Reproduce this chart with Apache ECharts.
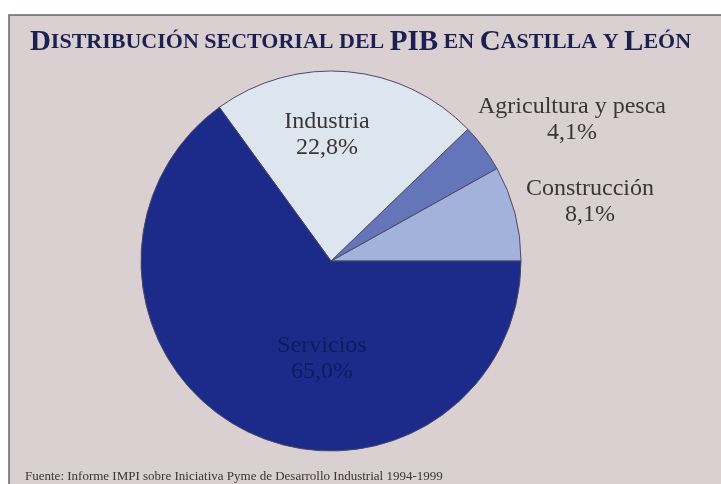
<!DOCTYPE html>
<html>
<head>
<meta charset="utf-8">
<script src="https://cdn.jsdelivr.net/npm/echarts@6/dist/echarts.min.js"></script>
<style>html,body{margin:0;padding:0;background:#fff;}#c{width:721px;height:484px;}</style>
</head>
<body>
<div id="c"></div>
<script>
const categories = ['Construcción', 'Agricultura y pesca', 'Industria', 'Servicios'];
const values = [8.1, 4.1, 22.8, 65.0];
const valueLabels = ['8,1%', '4,1%', '22,8%', '65,0%'];
const colors = ['#a3b2da', '#6575b9', '#dde5ee', '#1c2a8a'];
const labelPos = [[590, 202], [572, 120], [327, 135], [322, 359]];

const chart = echarts.init(document.getElementById('c'));
chart.setOption({
  backgroundColor: '#ffffff',
  animation: false,
  graphic: [{
    type: 'rect', z: -10,
    shape: { x: 9, y: 15, width: 720, height: 480 },
    style: { fill: '#dacfd1', stroke: '#6a6266', lineWidth: 1.5 }
  }],
  title: [{
    left: 'center', top: 23,
    text: '{b|D}{s|ISTRIBUCIÓN SECTORIAL DEL }{b|PIB}{s| EN }{b|C}{s|ASTILLA Y }{b|L}{s|EÓN}',
    textStyle: {
      rich: {
        b: { fontFamily: 'Liberation Serif', fontWeight: 'bold', fontSize: 29, color: '#1b2050' },
        s: { fontFamily: 'Liberation Serif', fontWeight: 'bold', fontSize: 22, color: '#1b2050' }
      }
    }
  }, {
    left: 20, top: 465,
    text: 'Fuente: Informe IMPI sobre Iniciativa Pyme de Desarrollo Industrial 1994-1999',
    textStyle: { fontFamily: 'Liberation Serif', fontWeight: 'normal', fontSize: 13, color: '#3a3538' }
  }],
  series: [{
    type: 'pie',
    center: [331, 261],
    radius: 190,
    startAngle: 0,
    clockwise: false,
    data: categories.map((c, i) => ({
      name: c, value: values[i],
      itemStyle: { color: colors[i] },
      label: { formatter: c + '\n' + valueLabels[i], color: i === 3 ? '#121a62' : '#3b3538' }
    })),
    itemStyle: { borderColor: '#4c4a66', borderWidth: 1 },
    label: {
      show: true, position: 'inside',
      fontFamily: 'Liberation Serif', fontSize: 24, lineHeight: 26, align: 'center'
    },
    labelLine: { show: false },
    labelLayout: function (p) {
      const pos = labelPos[p.dataIndex];
      return { x: pos[0], y: pos[1], align: 'center', verticalAlign: 'middle' };
    }
  }]
});
</script>
</body>
</html>
